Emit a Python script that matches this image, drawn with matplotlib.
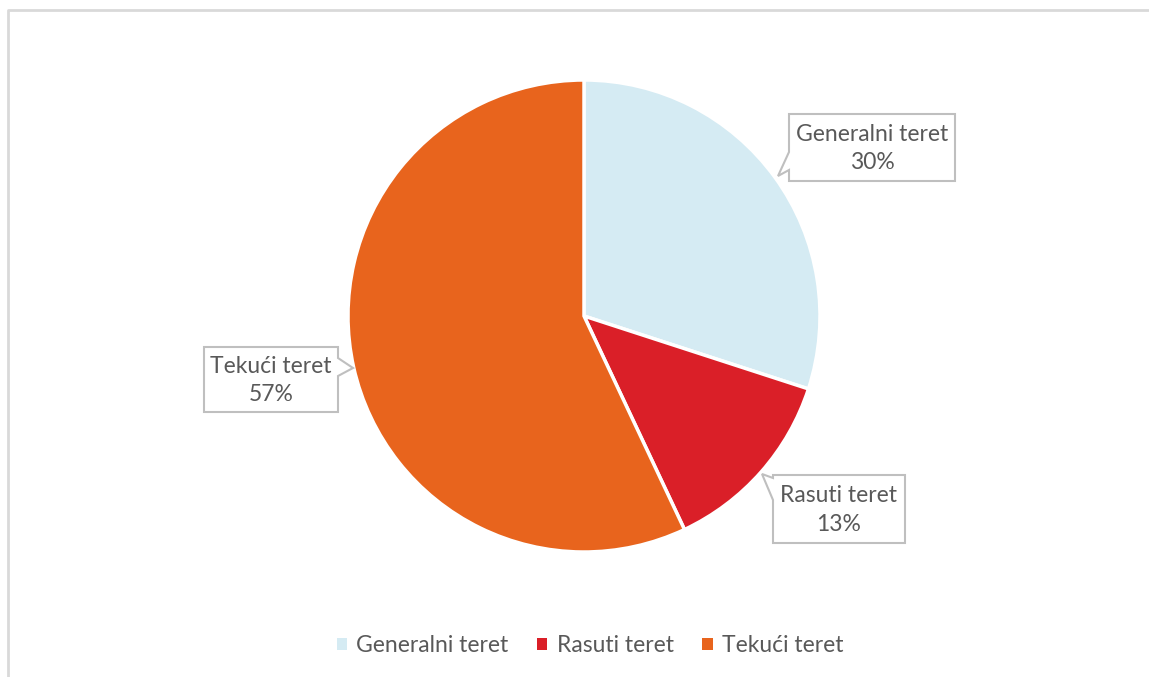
import matplotlib.pyplot as plt
from matplotlib.patches import Polygon, Rectangle

# Cargo structure
labels = ['Generalni teret', 'Rasuti teret', 'Tekući teret']
shares = [30, 13, 57]
colors = ['#D5EBF3', '#DA1F28', '#E8641D']

W, H = 1149, 677
text_col = '#595959'
plt.rcParams['font.family'] = ['Lato', 'DejaVu Sans']

fig = plt.figure(figsize=(W / 100, H / 100), dpi=100)
ax = fig.add_axes([0, 0, 1, 1])

# pie in pixel coordinates (y flipped)
ax.pie(shares, colors=colors, startangle=90, counterclock=False,
       center=(584, H - 316), radius=236,
       wedgeprops=dict(edgecolor='white', linewidth=2.5))
ax.set_xlim(0, W)
ax.set_ylim(0, H)
ax.set_aspect('equal')
ax.axis('off')

# chart area border (only top and left visible)
ax.plot([8, 8, W], [0, H - 10, H - 10], color='#D9D9D9', lw=2, clip_on=False)


def callout(box, ptr, tip):
    # box = (x0, y0, x1, y1) top-down pixels, ptr = side and base span
    x0, y0, x1, y1 = box
    side, a, b = ptr
    if side == 'left':
        pts = [(x0, y0), (x1, y0), (x1, y1), (x0, y1), (x0, b), tip, (x0, a)]
    else:
        pts = [(x0, y0), (x1, y0), (x1, a), tip, (x1, b), (x1, y1), (x0, y1)]
    pts = [(x, H - y) for x, y in pts]
    ax.add_patch(Polygon(pts, closed=True, facecolor='white',
                         edgecolor='#BFBFBF', lw=1.5, zorder=5))
    return (x0 + x1) / 2, (y0 + y1) / 2


boxes = [
    ((789, 114, 955, 181), ('left', 152, 170), (778, 176)),
    ((773, 475, 905, 543), ('left', 478, 500), (762, 474)),
    ((204, 347, 338, 412), ('right', 358, 376), (353, 368)),
]
for lab, val, (box, ptr, tip) in zip(labels, shares, boxes):
    cx, cy = callout(box, ptr, tip)
    ax.text(cx, H - cy - 1, f'{lab}\n{val}%', ha='center', va='center',
            fontsize=16.5, color=text_col, linespacing=1.45, zorder=6)

handles = [Rectangle((0, 0), 1, 1, facecolor=c) for c in colors]
fig.legend(handles, labels, loc='center', bbox_to_anchor=(590 / W, 1 - 646 / H),
           ncol=3, frameon=False, fontsize=16.5, handlelength=0.45, handleheight=0.45,
           handletextpad=0.4, columnspacing=1.25, labelcolor=text_col)

fig.savefig('out.png', dpi=100)
